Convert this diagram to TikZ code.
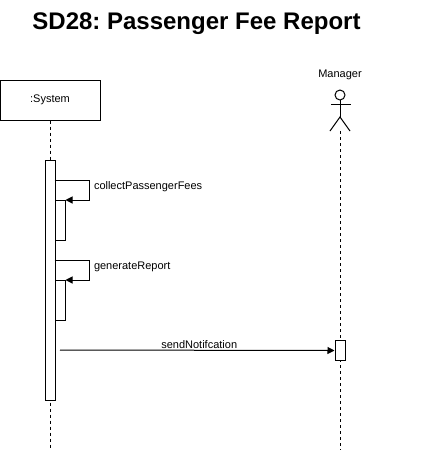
\documentclass[tikz,border=0pt]{standalone}
\usepackage{fontspec}
\setmainfont{Liberation Sans}
\usetikzlibrary{arrows.meta,positioning}
\frenchspacing
\begin{document}
\begin{tikzpicture}[x=1pt, y=-1pt, line width=1pt,
          obj/.style = {draw, rectangle, minimum width=100pt, minimum height=40pt, inner sep=0pt, font=\fontsize{11}{13}\selectfont},
          act/.style = {draw, fill=white, rectangle, minimum width=10pt, inner sep=0pt, anchor=north},
          life/.style = {dash pattern=on 3pt off 3pt},
          msg/.style = {-{Triangle[length=7pt,width=7pt]}},
          lbl/.style = {font=\fontsize{11}{13}\selectfont, inner sep=1pt}]
        \useasboundingbox (0,0) rectangle (421,451);
        \node[anchor=base, font=\bfseries\fontsize{24}{28}\selectfont] (title) at (196.5,29) {SD28: Passenger Fee Report};
        % lifelines
        \node[obj] (sys) at (50,100) {:System};
        \node[lbl] (mgr) at (340,75) {Manager};
        \coordinate (sysend) at (50,450);
        \coordinate (mgrtop) at (340,131);
        \coordinate (mgrend) at (340,450);
        \draw[life] (sys.south) -- (sysend);
        \draw[life] (mgrtop) -- (mgrend);
        % actor
        \draw (340,95) circle (5);
        \draw (340,100) -- (340,117);
        \draw (331,104) -- (351,104);
        \draw (330,131) -- (340,117) -- (350,131);
        % activations
        \node[act, minimum height=240pt] (bar) at (50,160) {};
        \node[act, minimum height=40pt] (bar1) at (60,200) {};
        \node[act, minimum height=40pt] (bar2) at (60,280) {};
        \node[act, minimum height=20pt] (mbar) at (340,340) {};
        % messages
        \foreach \b/\t in {bar1/collectPassengerFees, bar2/generateReport}
                 {
                   \draw[msg] ([yshift=20pt]\b.north west) -- ++(35,0) node[lbl, anchor=north west, xshift=3pt] {\t} |- (\b.north east);
                 }
        \coordinate (snd) at (60,350);
        \draw[msg] (snd) -- node[lbl, midway, above, xshift=2pt] {sendNotifcation} (mbar.west);
      \end{tikzpicture}
\end{document}
